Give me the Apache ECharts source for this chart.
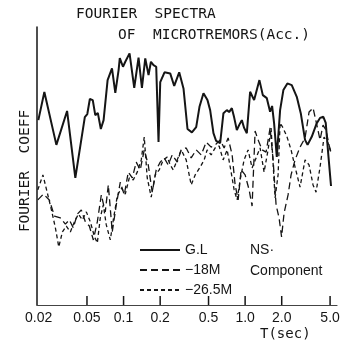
<!DOCTYPE html>
<html>
<head>
<meta charset="utf-8">
<script src="https://cdn.jsdelivr.net/npm/echarts@6/dist/echarts.min.js"></script>
<style>
  html, body { margin: 0; padding: 0; background: #fff; }
  #chart { width: 347px; height: 342px; }
</style>
</head>
<body>
<div id="chart"></div>
<script>
// Fourier spectra of microtremors (acceleration), NS component.
// Period T in seconds, Fourier coefficient in relative units.

const periodsGL = [0.0199,0.0223,0.0280,0.0343,0.0401,0.0480,0.0503,0.0528,0.0558,0.0585,
  0.0614,0.0650,0.0685,0.0739,0.0803,0.0855,0.0910,0.0931,0.0989,0.1033,
  0.1120,0.1224,0.1328,0.1416,0.1508,0.1605,0.1679,0.1764,0.1856,0.1939,
  0.2003,0.2172,0.2419,0.2610,0.2869,0.3112,0.3357,0.3648,0.3957,0.4212,
  0.4543,0.4899,0.5156,0.5489,0.5776,0.6232,0.6632,0.7072,0.7385,0.7774,
  0.8121,0.8548,0.8928,0.9395,0.9813,1.033,1.099,1.186,1.311,1.398,
  1.508,1.605,1.667,1.731,1.822,1.940,2.064,2.227,2.419,2.660,
  2.869,3.112,3.263,3.532,3.884,4.134,4.400,4.604,4.836,5.089];
const ampGL = [66.5,76.6,57.6,69.8,45.7,67.6,68.7,74.1,73.7,68.3,
  69.1,63.3,66.5,80.9,85.1,76.3,84.5,88.8,85.7,87.5,
  90.5,78.1,89.0,78.1,88.7,82.7,87.5,86.3,85.7,58.6,
  80.2,83.7,83.3,78.8,83.7,77.9,63.3,62.1,64.0,71.3,
  76.2,73.7,70.1,61.8,59.0,58.2,69.0,70.1,69.4,70.8,
  67.5,62.9,64.7,66.5,63.7,61.8,76.7,73.7,80.9,75.5,
  74.4,69.5,71.6,65.4,53.3,70.1,77.3,79.7,79.1,74.9,
  69.0,59.4,57.6,60.5,65.4,67.3,67.7,65.5,54.0,42.8];

const periods18 = [0.0197,0.0219,0.0245,0.0270,0.0302,0.0332,0.0358,0.0386,0.0416,0.0449,
  0.0485,0.0523,0.0564,0.0608,0.0656,0.0707,0.0749,0.0807,0.0871,0.0940,
  0.1013,0.1093,0.1179,0.1271,0.1371,0.1479,0.1596,0.1721,0.1856,0.2003,
  0.2160,0.2329,0.2513,0.2762,0.2979,0.3275,0.3600,0.3957,0.4350,0.4780,
  0.5256,0.5776,0.6232,0.6720,0.7249,0.7820,0.8276,0.8761,0.9271,1.000,
  1.079,1.141,1.208,1.279,1.380,1.488,1.605,1.699,1.798,1.903,
  1.995,2.092,2.256,2.388,2.576,2.831,3.112,3.357,3.621,3.906,
  4.134,4.375,4.630,4.899,5.089];
const amp18 = [37.8,39.9,37.8,32.0,31.3,29.1,30.6,27.7,32.7,34.2,
  29.9,28.4,23.4,29.9,39.6,33.5,43.2,26.3,36.0,44.2,
  39.6,47.8,45.7,51.4,48.6,55.8,50.4,40.6,48.6,51.4,
  52.9,50.4,54.0,51.4,55.8,56.5,52.9,55.8,54.0,58.6,
  56.8,57.9,59.4,56.5,60.1,54.0,43.2,37.8,48.6,46.8,
  41.4,35.6,62.6,59.4,55.8,55.0,63.7,52.2,36.0,31.3,
  24.5,33.1,39.6,46.8,52.2,56.8,60.1,69.4,70.9,64.4,
  59.4,64.7,62.9,57.6,55.0];

const periods265 = [0.0197,0.0217,0.0236,0.0255,0.0275,0.0293,0.0314,0.0338,0.0365,0.0394,
  0.0425,0.0458,0.0494,0.0533,0.0574,0.0608,0.0643,0.0681,0.0721,0.0778,
  0.0823,0.0888,0.0957,0.1033,0.1114,0.1201,0.1296,0.1398,0.1479,0.1566,
  0.1689,0.1822,0.1965,0.2120,0.2286,0.2419,0.2561,0.2762,0.2979,0.3275,
  0.3600,0.3882,0.4268,0.4604,0.4872,0.5256,0.5669,0.6115,0.6594,0.7113,
  0.7674,0.8121,0.8596,0.9097,0.9813,1.058,1.141,1.231,1.328,1.432,
  1.545,1.635,1.764,1.867,1.940,2.052,2.214,2.388,2.576,2.831,
  3.112,3.357,3.621,3.832,4.134,4.459,4.808,5.089];
const amp265 = [41.4,46.8,40.3,34.2,27.7,20.9,26.3,28.4,26.3,29.9,
  32.7,30.6,33.5,29.9,24.8,22.3,31.3,36.0,28.8,23.4,
  30.6,39.2,42.1,39.9,45.7,45.0,47.8,52.2,60.4,45.7,
  38.8,46.8,48.6,52.2,53.2,50.4,48.6,52.2,55.8,52.2,
  43.2,46.8,49.6,52.2,55.8,54.0,56.5,57.2,52.2,55.8,
  47.8,41.4,37.8,45.0,52.2,55.8,49.3,52.9,56.5,47.8,
  55.8,63.7,38.5,46.8,65.5,63.7,60.4,55.8,49.6,42.4,
  52.2,50.4,43.2,40.6,49.6,60.4,58.3,54.7];

// Period axis ticks and their labels
const tickPeriods = [0.02, 0.05, 0.1, 0.2, 0.5, 1.0, 2.0, 5.0];
const tickLabels = ['0.02', '0.05', '0.1', '0.2', '0.5', '1.0', '2.0', '5.0'];

const seriesNames = ['G.L', 'G.L-18M', 'G.L-26.5M'];

const zip = (xs, ys) => xs.map((x, i) => [x, ys[i]]);
const INK = '#151515';
const MONO = '"DejaVu Sans Mono", monospace';
const SANS = '"Liberation Sans", Arial, sans-serif';

const chart = echarts.init(document.getElementById('chart'), null, { renderer: 'canvas' });

chart.setOption({
  animation: false,
  backgroundColor: '#fff',
  grid: { left: 37, right: 10, top: 27, bottom: 37 },
  xAxis: {
    type: 'log',
    min: 0.0194,
    max: 5.7,
    axisLine: { show: true, onZero: false, lineStyle: { color: '#444', width: 1.2 } },
    axisTick: { show: false },
    axisLabel: { show: false },
    splitLine: { show: false },
    minorTick: { show: false }
  },
  yAxis: {
    type: 'value',
    min: 0,
    max: 100,
    axisLine: { show: true, lineStyle: { color: INK, width: 1.5 } },
    axisTick: { show: false },
    axisLabel: { show: false },
    splitLine: { show: false }
  },
  legend: {
    data: seriesNames,
    orient: 'vertical',
    left: 139,
    top: 243,
    itemWidth: 40,
    itemHeight: 14,
    itemGap: 6,
    padding: 0,
    itemStyle: { opacity: 0 },
    textStyle: { fontFamily: SANS, fontSize: 14, color: INK },
    formatter: name => name === 'G.L' ? 'G.L' : '\u2212' + name.slice(4)
  },
  graphic: [
    { type: 'text', x: 76, y: 14, style: { text: 'FOURIER  SPECTRA', font: '14.5px ' + MONO, fill: INK, align: 'left', verticalAlign: 'middle' } },
    { type: 'text', x: 118, y: 35, style: { text: 'OF  MICROTREMORS(Acc.)', font: '14.5px ' + MONO, fill: INK, align: 'left', verticalAlign: 'middle' } },
    { type: 'text', x: 25, y: 171, rotation: Math.PI / 2, style: { text: 'FOURIER  COEFF', font: '14.5px ' + MONO, fill: INK, align: 'center', verticalAlign: 'middle' } },
    { type: 'text', x: 260, y: 334, style: { text: 'T(sec)', font: '14px ' + MONO, fill: INK, align: 'left', verticalAlign: 'middle' } },
    { type: 'text', x: 250, y: 250, style: { text: 'NS\u00b7', font: '14px ' + SANS, fill: INK, align: 'left', verticalAlign: 'middle' } },
    { type: 'text', x: 250, y: 271, style: { text: 'Component', font: '14px ' + SANS, fill: INK, align: 'left', verticalAlign: 'middle' } }
  ],
  series: [
    {
      name: seriesNames[0],
      type: 'line',
      data: zip(periodsGL, ampGL),
      symbol: 'none',
      itemStyle: { color: INK },
      lineStyle: { color: INK, width: 2, type: 'solid' },
      z: 5
    },
    {
      name: seriesNames[1],
      type: 'line',
      data: zip(periods18, amp18),
      symbol: 'none',
      itemStyle: { color: INK },
      lineStyle: { color: INK, width: 1.3, type: [7, 4] },
      z: 4
    },
    {
      name: seriesNames[2],
      type: 'line',
      data: zip(periods265, amp265),
      symbol: 'none',
      itemStyle: { color: INK },
      lineStyle: { color: INK, width: 1.3, type: [4, 3] },
      z: 4
    },
    {
      // tick marks and labels along the period axis
      name: 'periodTicks',
      type: 'custom',
      clip: false,
      silent: true,
      data: tickPeriods.map(t => [t, 0]),
      renderItem: (params, api) => {
        const p = api.coord([api.value(0), 0]);
        const children = [{
          type: 'text',
          x: p[0], y: p[1] + 13,
          style: { text: tickLabels[params.dataIndex], font: '14px ' + SANS, fill: INK, align: 'center', verticalAlign: 'middle' }
        }];
        if (params.dataIndex > 0) {
          children.push({
            type: 'line',
            shape: { x1: p[0], y1: p[1], x2: p[0], y2: p[1] - 9 },
            style: { stroke: INK, lineWidth: 1.5 }
          });
        }
        return { type: 'group', children };
      },
      z: 6
    }
  ]
});
</script>
</body>
</html>
